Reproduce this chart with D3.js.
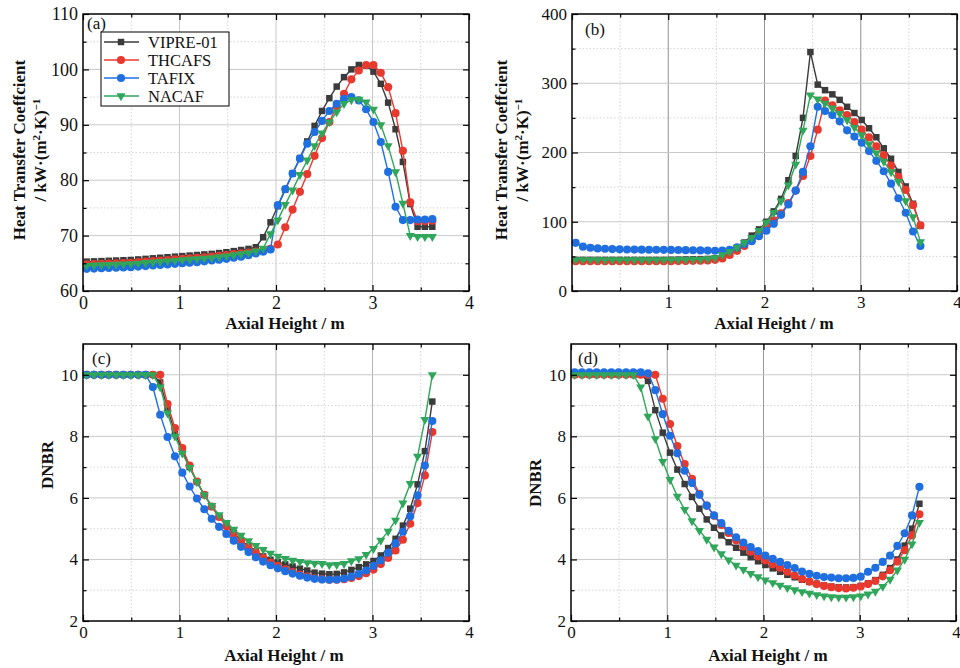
<!DOCTYPE html>
<html><head><meta charset="utf-8">
<script src="https://cdn.jsdelivr.net/npm/d3@7"></script>
<style>body{margin:0;background:#fff}svg{display:block}</style>
</head><body>
<svg id="chart" width="960" height="668"></svg>
<script>
// ---------------- DATA ----------------
const axial = [0.038,0.114,0.191,0.267,0.343,0.419,0.495,0.572,0.648,0.724,0.800,0.876,0.953,1.029,1.105,1.181,1.257,1.334,1.410,1.486,1.562,1.638,1.715,1.791,1.867,1.943,2.019,2.096,2.172,2.248,2.324,2.400,2.477,2.553,2.629,2.705,2.781,2.858,2.934,3.010,3.086,3.162,3.239,3.315,3.391,3.467,3.543,3.620];

const seriesNames = ["VIPRE-01","THCAFS","TAFIX","NACAF"];
const seriesColors = ["#3b3b3b","#e8392f","#1f6fe0","#2fa65a"];
const seriesSymbols = ["square","circle","circle","triangleDown"];

// (a) heat transfer coefficient, kW/(m2.K)
const htcA_VIPRE  = [65.3,65.35,65.4,65.45,65.5,65.55,65.6,65.7,65.8,65.9,66.0,66.1,66.2,66.3,66.4,66.5,66.6,66.7,66.85,67.0,67.2,67.4,67.6,67.9,69.7,72.4,75.3,78.3,81.2,84.0,87.0,89.8,92.5,94.8,96.9,98.6,100.0,100.8,100.7,99.6,97.4,94.0,89.2,83.3,75.7,71.6,71.6,71.6];
const htcA_THCAFS = [64.8,64.85,64.9,64.95,65.0,65.05,65.1,65.2,65.3,65.4,65.5,65.6,65.7,65.8,65.9,66.0,66.1,66.2,66.35,66.5,66.65,66.8,66.95,67.1,67.3,67.6,68.4,71.5,74.7,77.9,81.1,84.4,87.6,90.5,93.3,95.6,98.2,99.8,100.8,100.8,99.4,96.8,92.1,85.3,76.0,72.6,72.6,72.7];
const htcA_TAFIX  = [64.0,64.05,64.1,64.15,64.2,64.25,64.3,64.4,64.5,64.6,64.7,64.8,64.9,65.0,65.1,65.2,65.35,65.5,65.65,65.8,66.0,66.2,66.45,66.8,67.1,67.5,75.5,78.4,81.2,83.9,86.6,88.7,90.7,92.5,93.8,94.7,95.0,94.4,92.8,90.5,86.9,81.5,75.2,72.8,72.8,72.9,72.9,73.0];
const htcA_NACAF  = [64.6,64.65,64.7,64.75,64.8,64.85,64.9,65.0,65.1,65.2,65.3,65.4,65.5,65.6,65.7,65.8,65.9,66.0,66.15,66.3,66.5,66.7,66.9,67.2,67.7,70.3,72.8,75.6,78.2,81.0,83.6,86.2,88.5,90.5,92.3,93.8,94.5,94.6,94.1,92.8,90.0,86.2,81.5,75.8,70.0,69.8,69.8,69.8];

// (b) heat transfer coefficient, kW/(m2.K)
const htcB_VIPRE  = [45,45,45,45,45,45,45,45,45,45,45,45,45,45.2,45.4,45.6,45.8,46,46.3,47,50,55,62,70,80,89,100,115,133,160,195,250,345,298,290,284,276,266,257,247,235,222,206,191,172,151,126,94];
const htcB_THCAFS = [43,43,43,43,43,43,43,43,43,43,43,43,43,43,43.2,43.4,43.6,43.8,44.2,45,47,52,58,65,73,82,92,102,112,127,145,166,195,233,275,268,261,254,244,233,222,209,196,181,165,146,124,95];
const htcB_TAFIX  = [69.5,64,62.5,61.5,61,60.5,60.2,60,59.8,59.7,59.6,59.5,59.4,59.3,59.2,59,58.8,58.6,58.4,58.2,58.5,59.5,63,68,72,79,87,97,110,125,145,172,209,266,260,254,245,232,223,214,202,188,173,155,134,113,86,65];
const htcB_NACAF  = [45,45,45,45,45,45,45,45,45,45,45,45,45,45,45.2,45.4,45.6,45.8,46.5,48,52,57,63,70,77,87,99,113,130,153,183,232,283,277,271,264,256,247,236,225,212,199,187,172,158,130,107,71];

// (c) DNBR
const dnbrC_VIPRE  = [10,10,10,10,10,10,10,10,10,10,9.75,8.9,8.12,7.52,7.0,6.52,6.1,5.72,5.4,5.12,4.86,4.63,4.43,4.26,4.1,3.99,3.92,3.84,3.77,3.70,3.64,3.57,3.54,3.52,3.53,3.58,3.66,3.75,3.84,3.95,4.13,4.37,4.67,5.1,5.65,6.44,7.52,9.13];
const dnbrC_THCAFS = [10,10,10,10,10,10,10,10,10,10,10,9.05,8.27,7.62,7.05,6.53,6.1,5.72,5.38,5.08,4.82,4.6,4.4,4.22,4.05,3.9,3.79,3.68,3.59,3.51,3.44,3.39,3.36,3.34,3.34,3.36,3.40,3.46,3.55,3.67,3.85,4.05,4.29,4.64,5.16,5.83,6.73,8.14];
const dnbrC_TAFIX  = [10,10,10,10,10,10,10,10,10,9.6,8.7,7.98,7.35,6.82,6.37,5.98,5.63,5.32,5.06,4.83,4.61,4.41,4.24,4.07,3.93,3.81,3.71,3.62,3.54,3.47,3.41,3.37,3.35,3.34,3.35,3.38,3.44,3.53,3.64,3.79,3.97,4.22,4.52,4.9,5.4,6.08,7.05,8.5];
const dnbrC_NACAF  = [10,10,10,10,10,10,10,10,10,10,9.6,8.75,8.0,7.45,6.98,6.52,6.1,5.75,5.45,5.2,4.98,4.78,4.6,4.45,4.32,4.2,4.1,4.03,3.97,3.93,3.89,3.87,3.86,3.82,3.83,3.86,3.95,4.02,4.16,4.35,4.62,4.91,5.27,5.83,6.46,7.35,8.54,10.0];

// (d) DNBR
const dnbrD_VIPRE  = [10,10,10,10,10,10,10,10,10,10,9.8,8.85,8.12,7.47,6.92,6.45,6.03,5.65,5.3,5.03,4.78,4.56,4.38,4.22,4.07,3.94,3.82,3.71,3.6,3.5,3.42,3.34,3.27,3.21,3.16,3.12,3.1,3.09,3.1,3.14,3.22,3.33,3.5,3.72,4.0,4.45,5.0,5.81];
const dnbrD_THCAFS = [10,10,10,10,10,10,10,10,10,10,10,10,9.22,8.4,7.68,7.1,6.62,6.13,5.75,5.42,5.12,4.86,4.62,4.42,4.25,4.1,3.97,3.84,3.73,3.6,3.48,3.37,3.28,3.2,3.14,3.1,3.07,3.06,3.08,3.12,3.2,3.3,3.45,3.65,3.93,4.3,4.78,5.47];
const dnbrD_TAFIX  = [10.08,10.08,10.08,10.08,10.08,10.08,10.08,10.08,10.08,10.08,10.05,9.5,8.72,8.02,7.45,6.88,6.48,6.1,5.75,5.43,5.18,4.93,4.72,4.55,4.4,4.27,4.13,4.02,3.92,3.82,3.72,3.61,3.53,3.47,3.43,3.41,3.39,3.39,3.4,3.44,3.6,3.73,3.92,4.13,4.44,4.85,5.43,6.36];
const dnbrD_NACAF  = [10,10,10,10,10,10,10,10,10,9.6,8.65,7.92,7.18,6.59,6.05,5.62,5.25,4.94,4.65,4.4,4.18,3.98,3.81,3.67,3.54,3.43,3.33,3.24,3.16,3.08,3.01,2.95,2.9,2.85,2.81,2.78,2.77,2.77,2.78,2.81,2.87,2.96,3.12,3.35,3.65,4.0,4.5,5.2];

const xTicks = [0,1,2,3,4];
const xTickLabelsB = [1,2,3,4];
const xMinor = [0.5,1.5,2.5,3.5];
const yTicksA = [60,70,80,90,100,110];
const yMinorA = [65,75,85,95,105];
const yTicksB = [0,100,200,300,400];
const yMinorB = [50,150,250,350];
const yTicksDNBR = [2,4,6,8,10];
const yMinorDNBR = [3,5,7,9];

// ---------------- LAYOUT ----------------
const FONT = "'Liberation Serif','Times New Roman',serif";
const svg = d3.select("#chart");

const panels = [
  {label:"(a)", box:[83,469,14,291], yDomain:[60,110], yTicks:yTicksA, yMinor:yMinorA, xLabels:xTicks,
   data:[htcA_VIPRE,htcA_THCAFS,htcA_TAFIX,htcA_NACAF], ytitle:"htc", ytx:[25,46], ytcy:150,
   xtitle:[285,329], lab:[87,29], gridX:"#c9c9c9", fs:18, legend:true},
  {label:"(b)", box:[572,957,14,291], yDomain:[0,400], yTicks:yTicksB, yMinor:yMinorB, xLabels:xTickLabelsB,
   data:[htcB_VIPRE,htcB_THCAFS,htcB_TAFIX,htcB_NACAF], ytitle:"htc", ytx:[507,528], ytcy:150,
   xtitle:[774,329], lab:[585,35], gridX:"#909090", fs:17},
  {label:"(c)", box:[83,469,344,621], yDomain:[2,11], yTicks:yTicksDNBR, yMinor:yMinorDNBR, xLabels:xTicks,
   data:[dnbrC_VIPRE,dnbrC_THCAFS,dnbrC_TAFIX,dnbrC_NACAF], ytitle:"DNBR", ytx:[53], ytcy:465,
   xtitle:[284,661], lab:[92,364], gridX:"#b5b5b5", fs:17},
  {label:"(d)", box:[571,956,344,621], yDomain:[2,11], yTicks:yTicksDNBR, yMinor:yMinorDNBR, xLabels:xTicks,
   data:[dnbrD_VIPRE,dnbrD_THCAFS,dnbrD_TAFIX,dnbrD_NACAF], ytitle:"DNBR", ytx:[541], ytcy:483,
   xtitle:[768,661], lab:[578,364], gridX:"#999999", fs:17}
];

function symbolPath(kind){
  if(kind==="square") return d3.symbol().type(d3.symbolSquare).size(42)();
  if(kind==="circle") return d3.symbol().type(d3.symbolCircle).size(52)();
  return d3.symbol().type(d3.symbolTriangle).size(36)();
}

panels.forEach(p=>{
  const [L,R,T,B] = p.box;
  const x = d3.scaleLinear().domain([0,4]).range([L,R]);
  const y = d3.scaleLinear().domain(p.yDomain).range([B,T]);
  const g = svg.append("g");

  // minor grid (dotted)
  g.selectAll(".mgx").data(xMinor).join("line")
    .attr("x1",d=>x(d)).attr("x2",d=>x(d)).attr("y1",T).attr("y2",B)
    .attr("stroke","#d4d4d4").attr("stroke-width",1).attr("stroke-dasharray","1.5,2");
  g.selectAll(".mgy").data(p.yMinor).join("line")
    .attr("x1",L).attr("x2",R).attr("y1",d=>y(d)).attr("y2",d=>y(d))
    .attr("stroke","#d4d4d4").attr("stroke-width",1).attr("stroke-dasharray","1.5,2");
  // major grid
  g.selectAll(".gx").data(xTicks.filter(d=>d>0&&d<4)).join("line")
    .attr("x1",d=>x(d)).attr("x2",d=>x(d)).attr("y1",T).attr("y2",B)
    .attr("stroke",p.gridX).attr("stroke-width",1);
  g.selectAll(".gy").data(p.yTicks.filter(d=>d>p.yDomain[0]&&d<p.yDomain[1])).join("line")
    .attr("x1",L).attr("x2",R).attr("y1",d=>y(d)).attr("y2",d=>y(d))
    .attr("stroke","#c9c9c9").attr("stroke-width",1);

  // series
  p.data.forEach((vals,si)=>{
    const pts = axial.map((a,i)=>[a,vals[i]]);
    g.append("path").datum(pts)
      .attr("fill","none").attr("stroke",seriesColors[si]).attr("stroke-width",1.4)
      .attr("d",d3.line().x(d=>x(d[0])).y(d=>y(d[1])));
    const sp = symbolPath(seriesSymbols[si]);
    g.selectAll(null).data(pts).join("path")
      .attr("d",sp).attr("fill",seriesColors[si])
      .attr("transform",d=>`translate(${x(d[0])},${y(d[1])})`+(seriesSymbols[si]==="triangleDown"?" rotate(180)":""));
  });

  // axes with inward ticks
  const tickStyle = sel=>{ sel.select(".domain").remove(); sel.selectAll("line").attr("stroke","#000").attr("stroke-width",1.2); };
  const fmtX = d=> p.xLabels.includes(d)? d3.format("d")(d) : "";
  const bottom = g.append("g").attr("transform",`translate(0,${B})`)
    .call(d3.axisBottom(x).tickValues(xTicks).tickSize(-6).tickPadding(5).tickFormat(fmtX));
  tickStyle(bottom);
  bottom.selectAll("text").attr("font-family",FONT).attr("font-size",p.fs).attr("fill","#111");
  const bottomM = g.append("g").attr("transform",`translate(0,${B})`)
    .call(d3.axisBottom(x).tickValues(xMinor).tickSize(-3.5).tickFormat(""));
  tickStyle(bottomM);
  const top = g.append("g").attr("transform",`translate(0,${T})`)
    .call(d3.axisTop(x).tickValues(xTicks).tickSize(-6).tickFormat(""));
  tickStyle(top);
  const topM = g.append("g").attr("transform",`translate(0,${T})`)
    .call(d3.axisTop(x).tickValues(xMinor).tickSize(-3.5).tickFormat(""));
  tickStyle(topM);
  const left = g.append("g").attr("transform",`translate(${L},0)`)
    .call(d3.axisLeft(y).tickValues(p.yTicks).tickSize(-6).tickPadding(5).tickFormat(d3.format("d")));
  tickStyle(left);
  left.selectAll("text").attr("font-family",FONT).attr("font-size",p.fs).attr("fill","#111");
  const leftM = g.append("g").attr("transform",`translate(${L},0)`)
    .call(d3.axisLeft(y).tickValues(p.yMinor).tickSize(-3.5).tickFormat(""));
  tickStyle(leftM);
  const right = g.append("g").attr("transform",`translate(${R},0)`)
    .call(d3.axisRight(y).tickValues(p.yTicks).tickSize(-6).tickFormat(""));
  tickStyle(right);
  const rightM = g.append("g").attr("transform",`translate(${R},0)`)
    .call(d3.axisRight(y).tickValues(p.yMinor).tickSize(-3.5).tickFormat(""));
  tickStyle(rightM);

  // frame
  g.append("rect").attr("x",L).attr("y",T).attr("width",R-L).attr("height",B-T)
    .attr("fill","none").attr("stroke","#000").attr("stroke-width",1.5);

  // panel label
  g.append("text").attr("x",p.lab[0]).attr("y",p.lab[1]).text(p.label)
    .attr("font-family",FONT).attr("font-size",17).attr("fill","#111");

  // x title
  g.append("text").attr("x",p.xtitle[0]).attr("y",p.xtitle[1]).attr("text-anchor","middle")
    .attr("font-family",FONT).attr("font-size",17).attr("font-weight","bold").attr("fill","#111")
    .text("Axial Height / m");

  // y title
  if(p.ytitle==="htc"){
    g.append("text").attr("transform",`translate(${p.ytx[0]},${p.ytcy}) rotate(-90)`)
      .attr("text-anchor","middle").attr("font-family",FONT).attr("font-size",17).attr("font-weight","bold").attr("fill","#111")
      .text("Heat Transfer Coeffcient");
    const t2 = g.append("text").attr("transform",`translate(${p.ytx[1]},${p.ytcy}) rotate(-90)`)
      .attr("text-anchor","middle").attr("font-family",FONT).attr("font-size",17).attr("font-weight","bold").attr("fill","#111");
    t2.append("tspan").text("/ kW·(m");
    t2.append("tspan").attr("dy",-6).attr("font-size",11).text("2");
    t2.append("tspan").attr("dy",6).text("·K)");
    t2.append("tspan").attr("dy",-6).attr("font-size",11).text("−1");
  } else {
    g.append("text").attr("transform",`translate(${p.ytx[0]},${p.ytcy}) rotate(-90)`)
      .attr("text-anchor","middle").attr("font-family",FONT).attr("font-size",17).attr("font-weight","bold").attr("fill","#111")
      .text("DNBR");
  }

  // legend
  if(p.legend){
    const lg = g.append("g");
    lg.append("rect").attr("x",101).attr("y",32).attr("width",128).attr("height",74)
      .attr("fill","#fff").attr("stroke","#000").attr("stroke-width",1);
    seriesNames.forEach((n,si)=>{
      const yy = 42 + si*18;
      lg.append("line").attr("x1",104).attr("x2",139).attr("y1",yy).attr("y2",yy)
        .attr("stroke",seriesColors[si]).attr("stroke-width",1.4);
      lg.append("path").attr("d",symbolPath(seriesSymbols[si])).attr("fill",seriesColors[si])
        .attr("transform",`translate(121,${yy})`+(seriesSymbols[si]==="triangleDown"?" rotate(180)":""));
      lg.append("text").attr("x",148).attr("y",yy+5.5).text(n)
        .attr("font-family",FONT).attr("font-size",16.5).attr("fill","#111");
    });
  }
});
</script>
</body></html>
